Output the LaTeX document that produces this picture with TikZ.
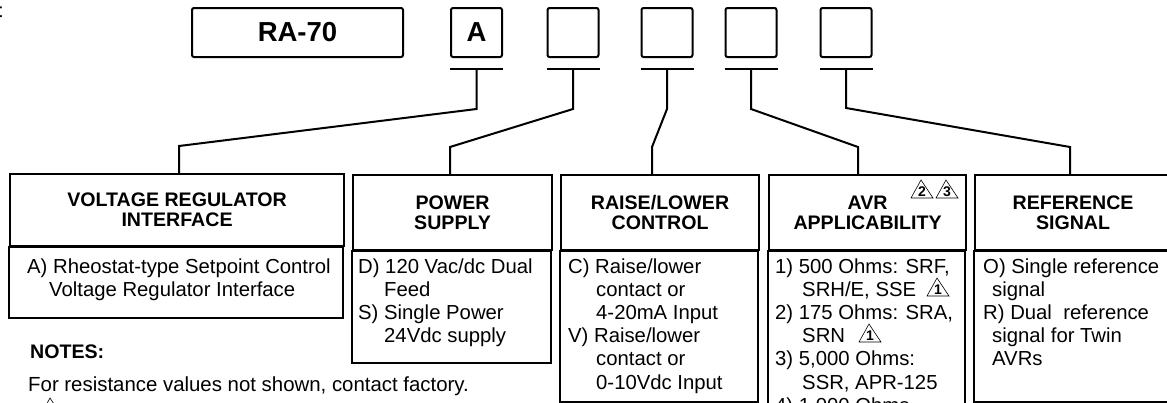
\documentclass[tikz,border=0pt]{standalone}
\usepackage{fontspec}
\setmainfont{Liberation Sans}
\usepackage{tikz}
\usetikzlibrary{positioning,calc}

\begin{document}
\begin{tikzpicture}[% one unit is one pixel of the layout, y runs down the page
			x=1pt,y=-1pt,
			codebox/.style={
				draw,line width=2pt,rounded corners=2pt,
				minimum width=51pt,minimum height=49pt,inner sep=0pt,
				font=\fontsize{27.5}{30}\selectfont\bfseries
			},
			headbox/.style={
				draw,line width=2.1pt,anchor=north west,inner sep=0pt,
				align=center,	% use this so that the "\\" for line break works
				minimum height=75pt,
				font=\fontsize{19.6}{20}\selectfont\bfseries
			},
			bodybox/.style={draw,line width=2.1pt},
			bodytext/.style={% base anchor sits on the last line
				anchor=base west,inner sep=0pt,align=left,
				font=\fontsize{20.3}{23.2}\selectfont
			},
			lead/.style={draw,line width=2pt},
			pics/warn/.style={code={
				\draw[line width=0.6pt] (-11,0) -- (-1,-18) -- (11,0) -- cycle;
				\node[inner sep=0pt,anchor=base,font=\fontsize{14}{14}\selectfont\bfseries] at (0,-2) {#1};
			}}
		]
		\useasboundingbox (0,0) rectangle (1167,402);
		\clip (0,0) rectangle (1167,402);
		% model code boxes
		\node[codebox,minimum width=211pt](T1) at (297.5,32.5){RA-70};
		\node[codebox](T2) at (476.5,32.5){A};
		\node[codebox](T3) at (573,32.5){};
		\node[codebox](T4) at (667,32.5){};
		\node[codebox](T5) at (751,32.5){};
		\node[codebox](T6) at (846,32.5){};
		\foreach \t in {T2,T3,T4,T5,T6}{
			\draw[line width=2pt] ([yshift=-11pt]\t.south west) -- ([yshift=-11pt]\t.south east);
			\coordinate (U\t) at ([yshift=-11pt]\t.south);
		}
		% option headers
		\node[headbox,minimum width=334pt,minimum height=72pt](H1) at (9,173){VOLTAGE REGULATOR\\INTERFACE};
		\node[headbox,minimum width=199pt](H2) at (352,174){POWER\\SUPPLY};
		\node[headbox,minimum width=198pt](H3) at (560,174){RAISE/LOWER\\CONTROL};
		\node[headbox,minimum width=197pt](H4) at (768,174){AVR\\APPLICABILITY};
		\node[headbox,minimum width=196pt](H5) at (974,174){REFERENCE\\SIGNAL};
		% option lists
		\draw[bodybox] (H1.south west) rectangle ++(334,71);
		\draw[bodybox] (H2.south west) rectangle ++(199,112);
		\draw[bodybox] (H3.south west) rectangle ++(198,151);
		\draw[bodybox] (H4.south west) rectangle ++(197,200);
		\draw[bodybox] (H5.south west) rectangle ++(196,151);
		\node[bodytext](L1) at (27,296.2){A) Rheostat-type Setpoint Control\\\hspace*{22pt}Voltage Regulator Interface};
		\node[bodytext](L2) at (358,342.6){D) 120 Vac/dc Dual\\\hspace*{26pt}Feed\\S) Single Power\\\hspace*{26pt}24Vdc supply};
		\node[bodytext](L3) at (568,389){C) Raise/lower\\\hspace*{28pt}contact or\\\hspace*{28pt}4-20mA Input\\V) Raise/lower\\\hspace*{28pt}contact or\\\hspace*{28pt}0-10Vdc Input};
		\node[bodytext](L4) at (775,412.2){1) 500 Ohms: SRF,\\\hspace*{27pt}SRH/E, SSE\\2) 175 Ohms: SRA,\\\hspace*{27pt}SRN\\3) 5,000 Ohms:\\\hspace*{27pt}SSR, APR-125\\4) 1,000 Ohms};
		\node[bodytext](L5) at (983,365.8){O) Single reference\\\hspace*{9pt}signal\\R) Dual\ \ reference\\\hspace*{9pt}signal for Twin\\\hspace*{9pt}AVRs};
		% note flags
		\pic at (922,198) {warn=2};
		\pic at (947,198) {warn=3};
		\pic at (938,296) {warn=1};
		\pic at (870,342) {warn=1};
		\pic at (51,416) {warn=};
		% leaders
		\coordinate (K2) at (179,146);
		\coordinate (K3) at (450,147);
		\coordinate (K4) at (652,147);
		\coordinate (K5) at (858,147);
		\coordinate (K6) at (1070,147);
		\path[lead]
		(UT2) -- ++(0,40) -- (K2) -- (K2 |- H1.north)
		(UT3) -- ++(0,40) -- (K3) -- (K3 |- H2.north)
		(UT4) -- ++(0,40) -- (K4) -- (K4 |- H3.north)
		(UT5) -- ++(0,40) -- (K5) -- (K5 |- H4.north)
		(UT6) -- ++(0,39) -- (K6) -- (K6 |- H5.north)
		;
		% notes
		\node[anchor=base west,inner sep=0pt,font=\fontsize{19.6}{20}\selectfont\bfseries](N1) at (30,358){NOTES:};
		\node[anchor=base west,inner sep=0pt,font=\fontsize{20.4}{24}\selectfont](N2) at (28,391){For resistance values not shown, contact factory.};
		\node[anchor=base east,inner sep=0pt,font=\fontsize{20}{24}\selectfont\bfseries](N0) at (2.5,17){t};
	\end{tikzpicture}
\end{document}
